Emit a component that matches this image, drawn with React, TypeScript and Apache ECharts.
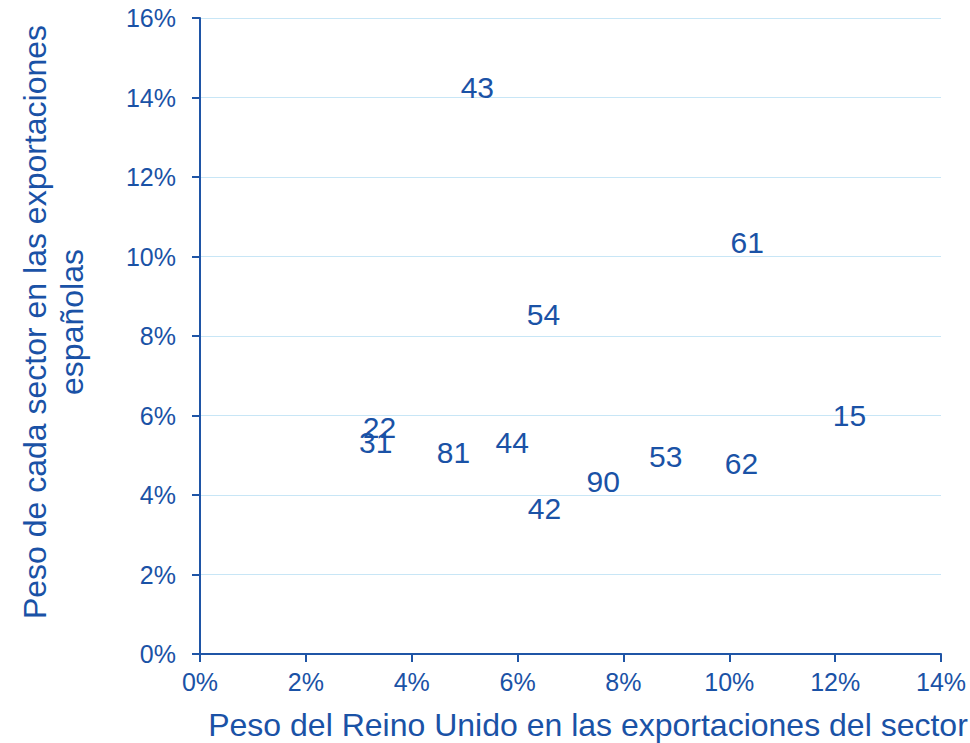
import React, { useEffect, useRef } from "react";
import * as echarts from "echarts";

const codes = ["43", "61", "54", "15", "22", "31", "81", "44", "90", "42", "53", "62"];
const xValues = [5.23, 10.33, 6.48, 12.26, 3.38, 3.31, 4.78, 5.89, 7.61, 6.5, 8.79, 10.22];
const yValues = [14.26, 10.34, 8.53, 5.99, 5.71, 5.33, 5.06, 5.33, 4.33, 3.65, 4.96, 4.8];

const xTitle = "Peso del Reino Unido en las exportaciones del sector";
const yTitleLines = ["Peso de cada sector en las exportaciones", "españolas"];

const TEXT = "#1A52A6";
const AXIS = "#1F55A6";
const GRID = "#C8E6F6";
const FONT = "Liberation Sans, Arial, sans-serif";

export default function App() {
  const ref = useRef<HTMLDivElement>(null);
  useEffect(() => {
    document.body.style.margin = "0";
    const chart = echarts.init(ref.current!, null, { renderer: "svg" });
    const data = codes.map((c, i) => ({ name: c, value: [xValues[i], yValues[i]] }));
    chart.setOption({
      animation: false,
      backgroundColor: "#ffffff",
      grid: { left: 200, right: 29, top: 18, bottom: 89 },
      xAxis: {
        type: "value",
        min: 0,
        max: 14,
        interval: 2,
        axisLine: { show: true, lineStyle: { color: AXIS, width: 2 } },
        axisTick: { show: true, length: 8, lineStyle: { color: AXIS, width: 2 } },
        splitLine: { show: false },
        axisLabel: {
          color: TEXT,
          fontSize: 25,
          fontFamily: FONT,
          margin: 15,
          formatter: (v: number) => `${v}%`,
        },
      },
      yAxis: {
        type: "value",
        min: 0,
        max: 16,
        interval: 2,
        axisLine: { show: true, lineStyle: { color: AXIS, width: 2 } },
        axisTick: { show: true, length: 8, lineStyle: { color: AXIS, width: 2 } },
        splitLine: { show: true, lineStyle: { color: GRID, width: 1 } },
        axisLabel: {
          color: TEXT,
          fontSize: 25,
          fontFamily: FONT,
          margin: 24,
          formatter: (v: number) => `${v}%`,
        },
      },
      graphic: [
        {
          type: "text",
          x: 588,
          y: 725,
          style: {
            text: xTitle,
            fill: TEXT,
            font: `32px ${FONT}`,
            align: "center",
            verticalAlign: "middle",
          },
        },
        {
          type: "text",
          x: 53,
          y: 322,
          rotation: Math.PI / 2,
          style: {
            text: yTitleLines.join("\n"),
            fill: TEXT,
            font: `32px ${FONT}`,
            align: "center",
            verticalAlign: "middle",
            lineHeight: 37,
          },
        },
      ],
      series: [
        {
          type: "scatter",
          symbol: "circle",
          symbolSize: 1,
          itemStyle: { color: "#ffffff", opacity: 0 },
          data,
          label: {
            show: true,
            position: "right",
            distance: 0,
            formatter: (p: any) => p.name,
            color: TEXT,
            opacity: 1,
            textBorderWidth: 0,
            fontSize: 30,
            fontFamily: FONT,
            align: "center",
            verticalAlign: "middle",
          },
        },
      ],
    });
    return () => chart.dispose();
  }, []);
  return <div ref={ref} style={{ width: 970, height: 743 }} />;
}
